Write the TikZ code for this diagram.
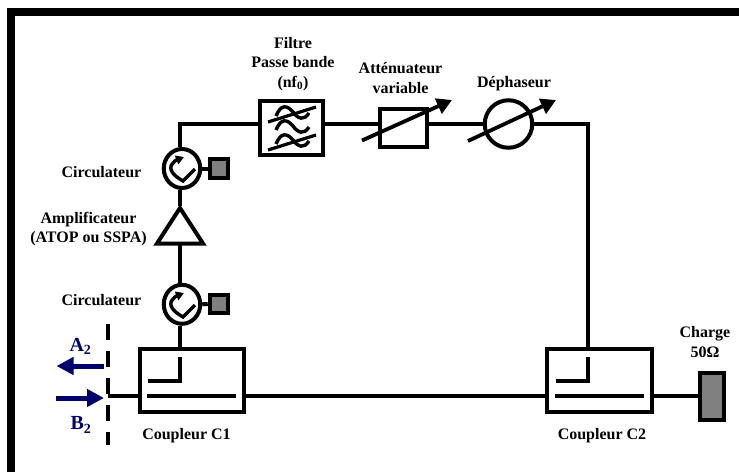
\documentclass[tikz,border=0pt]{standalone}
\usepackage{fontspec}
\setmainfont{Liberation Serif}
\usetikzlibrary{arrows.meta,shapes.geometric}
\definecolor{navyb}{RGB}{0,0,110}
\definecolor{loadg}{RGB}{128,128,128}
\tikzset{
  x=1pt,y=-1pt,
  wire/.style={line width=4pt},
  lbl/.style={font=\fontsize{16}{19.5}\selectfont\bfseries,align=center,inner sep=0pt,text=black},
  sig/.style={font=\fontsize{20}{22}\selectfont\bfseries,inner sep=0pt,text=navyb},
  box/.style={draw,line width=4pt,fill=white,inner sep=0pt,minimum width=#1},
  ring/.style={draw,circle,line width=4pt,fill=white,inner sep=0pt,minimum size=#1},
  circring/.style={draw,ellipse,line width=4pt,fill=white,inner sep=0pt,minimum width=36.5pt,minimum height=39pt},
  stub/.style={draw,line width=4pt,fill=loadg,inner sep=0pt},
  tune/.style={line width=3.8pt,-{Triangle[length=15pt,width=16pt]}},
  flow/.style={line width=5pt,draw=navyb,-{Triangle[length=17pt,width=17pt]}},
}
\newcommand{\circulator}[2]{%
  \draw[line width=3.4pt,line join=miter,-{Triangle[length=8pt,width=9pt]}] (#1+13,#2+1) -- (#1+1,#2+13) .. controls (#1-8,#2+8) and (#1-15,#2+1) .. (#1-9,#2-5) .. controls (#1-7,#2-8) and (#1-3,#2-9) .. (#1+2,#2-11);
}
\newcommand{\coupler}[2]{%
  \draw[line width=3.2pt] (#1+10,#2+34) -- (#1+42,#2+34) -- (#1+42,#2+10);
  \draw[line width=3.6pt] (#1+9,#2+49) -- (#1+98,#2+49);
}
\begin{document}
\begin{tikzpicture}
\useasboundingbox (0,0) rectangle (739,472);
\fill[white] (0,0) rectangle (739,472);
% frame
\draw[line width=8pt,line cap=butt] (11,472) -- (11,12.2) -- (739,12.2);

% named nodes
\node[box=63.5pt,minimum height=54.5pt] (filt) at (291.7,128) {};
\node[box=47.5pt,minimum height=38.5pt] (att) at (403.5,128) {};
\node[ring=47.5pt] (deph) at (508.5,124) {};
\node[circring] (circA) at (182,168.5) {};
\node[circring] (circB) at (182,304.3) {};
\node[stub,minimum size=18.5pt] (stubA) at (219,168.5) {};
\node[stub,minimum size=18.5pt] (stubB) at (219,304) {};
\coordinate (ampT) at (180,208);
\coordinate (ampB) at (180,243.5);
\path[draw,line width=4pt,fill=white,line join=miter] (ampT) -- (157,243.5) -- (203,243.5) -- cycle;
\node[box=104.5pt,minimum height=63.5pt] (cplA) at (192,380.5) {};
\node[box=104.5pt,minimum height=63.5pt] (cplB) at (599.5,380.5) {};
\node[stub,minimum width=24pt,minimum height=47pt] (load) at (712,396) {};
\coordinate (corner1) at (180,124);
\coordinate (corner2) at (588,124);
\coordinate (port) at (108,396);

% wires
\draw[wire] (corner1 |- circA.north) -- (corner1) -- (filt.west |- corner1);
\draw[wire] (filt.east |- corner1) -- (att.west |- corner1);
\draw[wire] (att.east |- corner1) -- (deph.west);
\draw[wire] (deph.east) -- (corner2) -- (corner2 |- cplB.north);
\draw[wire] (corner1 |- circA.south) -- (180,206);
\draw[wire] (ampB) -- (corner1 |- circB.north);
\draw[wire] (corner1 |- circB.south) -- (corner1 |- cplA.north);
\draw[wire] (circA.east) -- (stubA.west);
\draw[wire] (circB.east) -- (stubB.west);
\draw[wire] (port) -- (cplA.west |- port);
\draw[wire] (cplA.east |- port) -- (cplB.west |- port);
\draw[wire] (cplB.east |- port) -- (load.west);

% inner symbols
\coupler{138}{347}
\coupler{546}{347}
\circulator{182}{168}
\circulator{182}{304}

% filter symbol
\foreach \yy in {0,14,28}{
\draw[line width=3.4pt] (276,116+\yy) .. controls (281,104+\yy) and (287,105+\yy) .. (293,112+\yy) .. controls (298,119+\yy) and (304,121+\yy) .. (309,113+\yy);
}
\draw[line width=3.2pt] (268,122) -- (316,107);
\draw[line width=3.2pt] (268,150) -- (316,135);

% tunable arrows
\draw[tune] (362,140.5) -- (452,100);
\draw[tune] (468,141) -- (556,100);

% reference plane
\draw[line width=4pt,dash pattern=on 16pt off 11pt] (108,324) -- (108,445);
\coordinate (a2s) at (104,366);
\coordinate (a2e) at (56.5,366);
\coordinate (b2s) at (56,398);
\coordinate (b2e) at (104,398);
\draw[flow] (a2s) -- (a2e);
\draw[flow] (b2s) -- (b2e);

% labels
\node[lbl] (t1) at (293,64) {Filtre\\Passe bande\\(nf\textsubscript{0})};
\node[lbl] (t2) at (400.5,78) {Atténuateur\\variable};
\node[lbl] (t3) at (514,84) {Déphaseur};
\node[lbl] (t4) at (101.5,172) {Circulateur};
\node[lbl] (t5) at (88.5,229) {Amplificateur\\(ATOP ou SSPA)};
\node[lbl] (t6) at (101.5,300) {Circulateur};
\node[lbl] (t7) at (186.5,436) {Coupleur C1};
\node[lbl] (t8) at (602,436) {Coupleur C2};
\node[lbl] (t9) at (705,342) {Charge\\50Ω};
\node[sig] (t10) at (80.5,346) {A\textsubscript{2}};
\node[sig] (t11) at (81,425) {B\textsubscript{2}};
\end{tikzpicture}
\end{document}
